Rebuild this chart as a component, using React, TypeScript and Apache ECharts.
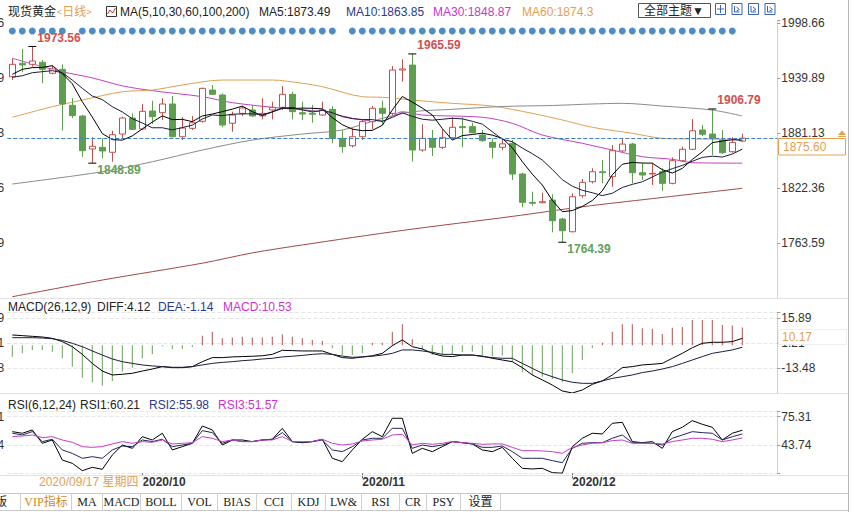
import { useEffect, useRef } from 'react';
import * as echarts from 'echarts';

const dates = [
  '2020/09/14','2020/09/15','2020/09/16','2020/09/17','2020/09/18','2020/09/21','2020/09/22','2020/09/23','2020/09/24','2020/09/25',
  '2020/09/28','2020/09/29','2020/09/30','2020/10/01','2020/10/02','2020/10/05','2020/10/06','2020/10/07','2020/10/08','2020/10/09',
  '2020/10/12','2020/10/13','2020/10/14','2020/10/15','2020/10/16','2020/10/19','2020/10/20','2020/10/21','2020/10/22','2020/10/23',
  '2020/10/26','2020/10/27','2020/10/28','2020/10/29','2020/10/30','2020/11/02','2020/11/03','2020/11/04','2020/11/05','2020/11/06',
  '2020/11/09','2020/11/10','2020/11/11','2020/11/12','2020/11/13','2020/11/16','2020/11/17','2020/11/18','2020/11/19','2020/11/20',
  '2020/11/23','2020/11/24','2020/11/25','2020/11/26','2020/11/27','2020/11/30','2020/12/01','2020/12/02','2020/12/03','2020/12/04',
  '2020/12/07','2020/12/08','2020/12/09','2020/12/10','2020/12/11','2020/12/14','2020/12/15','2020/12/16','2020/12/17','2020/12/18',
  '2020/12/21','2020/12/22','2020/12/23','2020/12/24'
];
const monthStarts = ['2020/10/01', '2020/11/02', '2020/12/01'];

const opens = [
  1941.2,1955.6,1954.5,1956.6,1944.9,1949.1,1910.7,1899.2,1864.0,1865.8,
  1860.5,1880.0,1897.1,1885.4,1904.6,1902.8,1912.1,1877.1,1886.1,1893.6,
  1927.0,1921.7,1891.5,1902.1,1905.7,1899.3,1905.7,1908.5,1922.4,1902.8,
  1902.1,1900.3,1906.4,1875.4,1867.5,1877.1,1893.2,1907.5,1902.1,1948.4,
  1953.7,1862.9,1875.4,1865.8,1876.1,1887.9,1887.9,1878.9,1871.1,1865.8,
  1870.1,1837.3,1807.0,1806.6,1809.5,1789.2,1775.6,1814.1,1829.1,1839.7,
  1834.4,1861.9,1869.3,1838.7,1837.3,1839.7,1827.3,1851.5,1863.7,1884.3,
  1880.0,1873.6,1861.1,1872.5
];
const closes = [
  1954.5,1953.8,1958.0,1949.1,1949.5,1912.1,1899.6,1862.2,1866.9,1861.9,
  1879.3,1897.1,1885.0,1904.3,1898.5,1912.1,1877.1,1886.4,1892.1,1928.8,
  1922.4,1889.6,1900.3,1907.8,1899.3,1902.1,1908.5,1922.4,1903.9,1901.4,
  1901.1,1905.7,1875.4,1866.5,1877.1,1893.2,1907.5,1902.1,1948.4,1949.5,
  1862.9,1875.4,1865.8,1876.1,1887.2,1886.8,1881.4,1872.9,1865.8,1869.5,
  1837.3,1807.0,1806.0,1807.7,1787.4,1776.7,1813.0,1828.4,1839.7,1838.7,
  1862.2,1869.3,1838.7,1836.2,1838.0,1827.3,1851.5,1863.7,1883.5,1879.7,
  1875.4,1860.0,1871.1,1875.6
];
const lows = [
  1937.7,1946.0,1951.9,1934.2,1943.8,1883.5,1896.8,1855.8,1848.89,1854.1,
  1850.4,1875.4,1884.3,1884.3,1890.7,1895.0,1876.5,1873.6,1884.3,1892.0,
  1921.7,1887.2,1882.5,1899.3,1898.5,1895.7,1895.7,1905.7,1895.7,1895.0,
  1892.1,1899.3,1870.1,1860.0,1865.8,1873.6,1885.0,1889.6,1900.0,1935.9,
  1850.4,1861.1,1856.5,1864.0,1875.4,1865.8,1880.7,1871.8,1854.1,1862.9,
  1830.9,1801.7,1803.4,1806.0,1775.0,1764.39,1775.0,1812.0,1827.3,1827.3,
  1823.7,1861.1,1827.3,1830.9,1825.5,1819.4,1826.3,1850.4,1862.9,1877.9,
  1857.6,1858.6,1860.0,1871.8
];
const highs = [
  1960.9,1971.0,1973.56,1959.1,1953.7,1954.5,1918.2,1900.5,1876.5,1875.4,
  1883.5,1898.5,1902.1,1912.1,1915.6,1918.2,1920.6,1897.9,1899.2,1929.5,
  1932.4,1923.5,1903.9,1909.9,1911.0,1918.2,1914.5,1931.3,1925.2,1914.5,
  1911.0,1914.5,1909.9,1884.3,1886.1,1895.0,1909.9,1915.6,1952.7,1959.8,
  1965.59,1890.4,1884.3,1885.0,1897.9,1897.9,1892.1,1884.3,1875.4,1875.4,
  1873.6,1838.7,1818.4,1817.3,1815.6,1790.6,1816.6,1831.9,1843.4,1852.2,
  1868.3,1875.4,1870.7,1848.7,1848.7,1843.4,1855.1,1866.5,1896.0,1889.6,
  1906.79,1884.3,1876.5,1880.4
];
const highMarks = [[2, 1973.56], [40, 1965.59], [70, 1906.79]];
const lowMarks = [[8, 1848.89], [55, 1764.39]];

const ma5 = [
  1943.8,1949.1,1950.9,1951.2,1953.0,1944.5,1933.7,1914.5,1898.1,1880.5,
  1874.0,1873.5,1878.0,1885.5,1892.8,1899.4,1895.4,1895.7,1893.2,1899.3,
  1901.4,1903.9,1906.6,1909.8,1903.9,1899.8,1903.6,1908.0,1907.2,1907.7,
  1907.5,1906.9,1897.5,1890.0,1885.2,1883.6,1883.9,1889.3,1905.7,1920.1,
  1914.1,1907.7,1900.4,1885.9,1873.5,1878.3,1879.5,1880.9,1878.8,1875.3,
  1865.4,1850.5,1837.1,1825.5,1809.1,1797.0,1798.2,1802.6,1809.0,1819.3,
  1836.4,1847.7,1849.7,1849.0,1848.9,1841.9,1838.3,1843.3,1852.8,1861.1,
  1870.8,1872.5,1873.9,1873.5
];
const ma10 = [
  1940.6,1942.3,1945.5,1946.6,1947.7,1945.5,1937.7,1928.8,1920.6,1916.8,
  1909.2,1903.6,1896.3,1891.8,1886.7,1886.7,1884.4,1886.9,1889.4,1896.1,
  1900.4,1899.6,1901.2,1901.5,1901.6,1900.6,1903.7,1907.3,1908.5,1905.8,
  1903.6,1905.3,1902.8,1898.6,1896.4,1895.5,1895.4,1893.4,1897.8,1902.7,
  1898.8,1895.8,1894.8,1895.8,1896.8,1896.2,1893.6,1890.6,1882.4,1874.4,
  1871.8,1865.0,1859.0,1852.2,1842.2,1831.2,1824.3,1819.9,1817.3,1814.2,
  1816.7,1822.9,1826.2,1829.0,1834.1,1839.2,1843.0,1846.5,1850.9,1855.0,
  1856.3,1855.4,1858.6,1863.85
];
const ma30Pts = [[0,1960.9],[3,1952.0],[5,1946.5],[8,1940.0],[11,1931.5],[14,1926.3],[19,1919.9],[22,1913.5],[27,1907.5],[31,1903.8],[35,1895.0],[37,1894.2],[39,1903.8],[41,1900.3],[47,1897.9],[50,1891.5],[53,1878.9],[57,1870.1],[60,1862.9],[63,1855.8],[66,1853.0],[68,1849.4],[73,1848.87]];
const ma60Pts = [[0,1897.9],[4,1909.2],[7,1916.3],[11,1925.2],[14,1927.0],[17,1932.4],[21,1937.7],[26,1937.7],[29,1934.2],[31,1930.6],[35,1919.9],[37,1919.2],[40,1916.3],[44,1912.8],[48,1909.9],[52,1902.1],[55,1895.0],[58,1887.2],[62,1880.8],[65,1875.4],[68,1874.7],[73,1874.3]];
const ma100Pts = [[0,1826.6],[9,1839.7],[14,1850.4],[19,1862.9],[24,1873.6],[29,1880.0],[33,1884.3],[37,1896.8],[40,1903.8],[44,1906.4],[49,1909.4],[54,1910.5],[58,1912.1],[61,1912.8],[65,1909.9],[70,1905.6],[73,1899.3]];
const ma200Pts = [[0,1706.2],[9,1724.0],[19,1742.0],[24,1753.0],[29,1761.5],[39,1777.0],[50,1792.0],[57,1802.3],[64,1811.0],[73,1822.0]];

const macdBars = [
  -6.7,-4.7,-2.7,-2.7,-3.7,-7.6,-12.5,-19.0,-21.7,-23.7,
  -20.9,-15.5,-13.1,-7.6,-5.3,-0.6,-2.2,-2.2,-1.0,5.7,
  8.0,4.1,4.6,5.1,4.6,4.6,5.1,6.5,5.1,4.1,
  3.2,2.6,-1.7,-5.7,-5.7,-4.7,1.6,1.6,8.0,12.4,
  3.6,-2.5,-5.7,-6.0,-5.7,-4.1,-3.7,-6.0,-6.6,-6.0,
  -9.6,-15.8,-17.4,-18.4,-19.8,-21.7,-16.4,-8.6,-1.5,1.5,
  8.0,12.4,12.4,10.0,9.8,6.7,10.4,10.8,14.9,14.9,
  14.9,11.9,11.6,10.53
];
const diff = [
  6.1,5.7,5.3,4.9,4.1,2.2,-0.8,-5.3,-10.6,-15.1,
  -17.4,-17.0,-16.4,-15.1,-13.9,-12.5,-13.1,-13.1,-12.5,-9.6,
  -7.2,-7.2,-6.8,-6.6,-6.4,-6.1,-5.3,-2.9,-3.1,-3.3,
  -3.3,-3.3,-5.3,-7.2,-7.6,-6.8,-6.1,-4.7,-0.2,3.2,
  -0.8,-2.1,-4.7,-6.3,-6.6,-5.7,-5.7,-6.3,-7.6,-8.6,
  -9.6,-13.1,-17.4,-20.3,-23.3,-26.8,-28.0,-26.2,-22.9,-20.9,
  -17.4,-13.1,-12.5,-11.5,-11.1,-10.6,-7.6,-4.7,-1.4,1.2,
  1.8,1.8,2.2,4.12
];
const dea = [
  4.5,4.5,4.5,4.3,3.9,2.9,1.2,-0.8,-3.3,-5.7,
  -8.0,-9.6,-10.6,-11.5,-12.1,-12.5,-12.9,-12.9,-12.5,-11.5,
  -10.6,-10.0,-9.6,-9.0,-8.6,-8.0,-7.6,-6.8,-6.4,-5.9,
  -5.3,-4.9,-5.3,-6.3,-7.0,-6.8,-6.4,-5.7,-4.7,-2.7,
  -2.7,-3.3,-4.1,-5.3,-5.3,-5.7,-5.7,-6.6,-7.2,-7.6,
  -7.6,-10.6,-13.5,-16.4,-18.4,-20.3,-21.7,-22.3,-22.3,-20.9,
  -19.4,-18.4,-17.4,-16.0,-15.1,-13.9,-12.5,-10.6,-8.6,-6.6,
  -4.7,-3.7,-2.7,-1.14
];

const rsi1 = [
  58.6,56.8,60.5,45.6,49.3,27.0,23.3,15.1,18.8,16.6,
  32.6,43.7,40.0,53.0,49.3,56.8,38.2,41.9,45.6,64.9,
  60.5,43.7,49.3,49.3,47.5,49.3,50.1,62.3,47.5,46.3,
  47.5,50.1,28.9,25.2,38.2,50.1,58.6,53.0,73.5,73.5,
  34.4,40.0,36.3,41.9,47.5,46.3,44.9,38.2,36.3,41.1,
  28.9,17.7,17.0,17.7,12.9,12.3,41.9,51.2,56.8,56.0,
  67.9,69.0,47.5,46.3,47.5,40.0,58.6,63.5,70.9,66.8,
  63.5,49.3,56.8,60.21
];
const rsi2 = [
  56.8,54.9,58.6,47.5,50.1,38.2,34.4,28.9,30.7,28.9,
  38.2,42.6,41.9,49.3,47.5,50.1,41.9,43.7,45.6,59.7,
  57.5,45.6,49.3,47.5,47.5,49.3,50.1,57.5,47.5,46.3,
  47.5,49.3,38.2,36.3,41.9,49.3,51.2,51.2,62.3,62.3,
  40.0,43.7,41.9,43.7,47.5,46.3,44.9,41.1,41.1,42.6,
  36.3,28.9,28.9,28.9,26.3,24.0,40.0,45.6,46.3,46.3,
  51.2,54.9,46.3,46.3,45.6,43.7,51.2,54.9,58.6,57.5,
  56.8,49.3,53.0,55.98
];
const rsi3 = [
  53.0,53.8,54.9,51.9,53.0,49.3,46.7,41.9,41.1,41.9,
  44.9,47.5,45.6,47.5,46.7,49.3,44.9,45.6,46.3,53.0,
  51.2,47.5,49.3,47.5,47.5,49.3,49.3,53.0,47.5,47.5,
  47.5,50.1,45.6,43.7,44.9,48.2,49.3,50.1,54.9,55.6,
  43.7,45.6,44.5,45.6,47.5,46.3,45.6,44.5,44.9,44.9,
  41.1,37.4,37.4,37.1,36.3,34.4,41.1,43.7,45.6,46.3,
  48.6,49.3,45.6,45.6,45.6,44.9,47.5,49.3,51.2,51.2,
  50.1,47.5,49.3,51.57
];

const newsDots = [
  1,1,1,1,1,1,0,1,1,1, 1,1,1,1,1,1,1,1,1,1,
  1,1,1,1,1,1,1,1,1,1, 1,1,1,0,1,1,1,1,1,1,
  1,1,1,1,1,1,1,1,1,1, 1,1,1,1,1,1,1,1,1,1,
  1,1,1,1,1,1,1,1,1,1, 1,1,1,0
];

const mainTicks = ['1998.66', '1939.89', '1881.13', '1822.36', '1763.59'];
const macdTicks = ['15.89', '1.21', '-13.48'];
const rsiTicks = ['75.31', '43.74'];
const tabs = ['VIP指标', 'MA', 'MACD', 'BOLL', 'VOL', 'BIAS', 'CCI', 'KDJ', 'LW&', 'RSI', 'CR', 'PSY', '设置'];

const FONT = "'Liberation Sans', Arial, 'Noto Sans CJK SC', sans-serif";
const SERIF = "'Liberation Serif', 'Noto Sans CJK SC', serif";
const UP = '#c0504d';
const DOWN = '#5e9e4f';
const NAVY = '#2a3a8c';
const MAGENTA = '#cc33cc';
const ORANGE = '#e3a052';

const pick = (list: string[]) => (v: number) => {
  const m = list.find((s) => Math.abs(parseFloat(s) - v) < 0.03);
  return m ?? '';
};

const txt = (text: string, x: number, y: number, fill: string, extra: any = {}) => ({
  type: 'text', x, y, silent: true, z: 100,
  style: {
    text, fill, fontSize: 12, fontFamily: FONT,
    align: 'left', verticalAlign: 'middle', textAlign: 'left', textVerticalAlign: 'middle',
    ...extra,
  },
});
const hline = (x1: number, x2: number, y: number, stroke: string) => ({
  type: 'line', silent: true, z: 90, shape: { x1, y1: y, x2, y2: y }, style: { stroke, lineWidth: 1 },
});
const vline = (x: number, y1: number, y2: number, stroke: string) => ({
  type: 'line', silent: true, z: 90, shape: { x1: x, y1, x2: x, y2 }, style: { stroke, lineWidth: 1 },
});

const GL = 7.3;
const GW = 770;

const xHidden = (gridIndex: number) => ({
  type: 'category', gridIndex, data: dates, boundaryGap: true, max: 76,
  axisLine: { show: false }, axisTick: { show: false }, axisLabel: { show: false }, splitLine: { show: false },
});
const isMonthStart = (_i: number, v: string) => monthStarts.includes(v);

const yPair = (gridIndex: number, min: number, max: number, interval: number, ticks: string[], split: boolean) => [
  {
    type: 'value', gridIndex, position: 'right', min, max, interval,
    axisLine: { show: true, lineStyle: { color: '#c8c8c8', type: 'dotted' } },
    axisTick: { show: true, length: 3, lineStyle: { color: '#999' } },
    axisLabel: { formatter: pick(ticks), color: '#333', fontSize: 12, margin: 4, fontFamily: FONT },
    splitLine: { show: split, lineStyle: { color: '#e6e6e6', type: 'dashed' } },
  },
  {
    type: 'value', gridIndex, position: 'left', min, max, interval,
    axisLine: { show: false }, axisTick: { show: false },
    axisLabel: { formatter: pick(ticks), color: '#333', fontSize: 12, margin: 3, fontFamily: FONT },
    splitLine: { show: false },
  },
];

const graphics: any[] = [
  txt('现货黄金', 8, 12, '#222'),
  {
    type: 'text', x: 57, y: 12, silent: true, z: 100,
    style: {
      text: '{s|<}日线{s|>}', fill: ORANGE, fontSize: 12, fontFamily: FONT,
      align: 'left', verticalAlign: 'middle', textAlign: 'left', textVerticalAlign: 'middle',
      rich: { s: { fontSize: 9, fill: ORANGE, fontFamily: FONT } },
    },
  },
  { type: 'rect', silent: true, z: 100, shape: { x: 106.5, y: 6.5, width: 10, height: 10 }, style: { fill: '#fff', stroke: '#333', lineWidth: 1 } },
  { type: 'polyline', silent: true, z: 101, shape: { points: [[107.5, 14], [110, 10], [112.5, 13], [115.5, 8]] }, style: { stroke: '#c03030', fill: 'none', lineWidth: 1 } },
  txt('MA(5,10,30,60,100,200)', 120, 12, '#222'),
  txt('MA5:1873.49', 259, 12, '#222'),
  txt('MA10:1863.85', 346, 12, NAVY),
  txt('MA30:1848.87', 433, 12, MAGENTA),
  txt('MA60:1874.3', 522, 12, ORANGE),
  { type: 'rect', silent: true, z: 100, shape: { x: 638.5, y: 3.5, width: 72, height: 14 }, style: { fill: '#fff', stroke: '#555', lineWidth: 1 } },
  txt('全部主题▼', 644, 11, '#222'),
  ...[715, 731.5, 748, 764.5].flatMap((x, k) => [
    { type: 'rect', silent: true, z: 100, shape: { x: x + 0.5, y: 3.5, width: 10, height: 11 }, style: { fill: '#fff', stroke: '#3b64b0', lineWidth: 1 } },
    k === 0
      ? { type: 'polyline', silent: true, z: 101, shape: { points: [[x + 5.5, 5], [x + 5.5, 13]] }, style: { stroke: '#3b64b0', fill: 'none' } }
      : { type: 'polyline', silent: true, z: 101, shape: { points: [[x + 3, 6], [x + 3, 12], [x + 8, 12]] }, style: { stroke: '#3b64b0', fill: 'none' } },
    k === 0
      ? { type: 'polyline', silent: true, z: 101, shape: { points: [[x + 2, 9], [x + 9, 9]] }, style: { stroke: '#3b64b0', fill: 'none' } }
      : { type: 'polyline', silent: true, z: 101, shape: { points: [[x + 5, 7], [x + 8, 9.5], [x + 5, 11]] }, style: { stroke: '#3b64b0', fill: 'none' } },
  ]),
  hline(0, 848, 298.5, '#e2e2e2'),
  hline(0, 848, 393.5, '#e2e2e2'),
  hline(0, 848, 475.5, '#e2e2e2'),
  vline(848.5, 0, 512, '#b8b8b8'),
  txt('MACD(26,12,9)', 8, 307, '#222'),
  txt('DIFF:4.12', 97, 307, '#222'),
  txt('DEA:-1.14', 158, 307, NAVY),
  txt('MACD:10.53', 223, 307, MAGENTA),
  txt('RSI(6,12,24)', 8, 405, '#222'),
  txt('RSI1:60.21', 80, 405, '#222'),
  txt('RSI2:55.98', 149, 405, NAVY),
  txt('RSI3:51.57', 218, 405, MAGENTA),
  { type: 'rect', silent: true, z: 100, shape: { x: 778.5, y: 138.5, width: 67, height: 16.5 }, style: { fill: '#fff', stroke: ORANGE, lineWidth: 1 } },
  txt('1875.60', 783, 147, ORANGE),
  { type: 'polygon', silent: true, z: 101, shape: { points: [[838, 135], [842, 130.5], [846, 135]] }, style: { fill: ORANGE } },
  hline(838, 846, 136.5, ORANGE),
  { type: 'rect', silent: true, z: 100, shape: { x: 778.5, y: 329.5, width: 68, height: 15 }, style: { fill: '#fff', stroke: '#eeeeee', lineWidth: 1 } },
  txt('10.17', 782, 337, ORANGE),
  txt('2020/09/17 星期四', 39, 482, ORANGE, { backgroundColor: '#fff', padding: [0, 5, 0, 0] }),
  hline(0, 848, 493.5, '#c8c8c8'),
  hline(0, 848, 510.5, '#c8c8c8'),
  txt('版', 7, 502, '#222', { align: 'right', textAlign: 'right', fontFamily: SERIF }),
  ...[20.5, 71.5, 102.5, 140.5, 181.5, 217.5, 256.5, 291.5, 325.5, 361.5, 399.5, 426.5, 460.5, 500.5].map((x) => vline(x, 494, 510, '#d0d0d0')),
  ...tabs.map((t, k) => {
    const centers = [46, 87, 121.5, 161, 199.5, 237, 274, 308.5, 343.5, 380.5, 413, 443.5, 480.5];
    return txt(t, centers[k], 502, k === 0 ? '#d08a20' : '#222', { align: 'center', textAlign: 'center', fontFamily: SERIF });
  }),
];

const gridBase = { left: GL, width: GW, containLabel: false, outerBoundsMode: 'none' };

const option: any = {
  animation: false,
  backgroundColor: '#fff',
  grid: [
    { ...gridBase, top: 20, height: 278 },
    { ...gridBase, top: 312.05, height: 81.25 },
    { ...gridBase, top: 411, height: 62.3 },
    { ...gridBase, top: 26, height: 10 },
  ],
  xAxis: [
    xHidden(0),
    xHidden(1),
    {
      type: 'category', gridIndex: 2, data: dates, boundaryGap: true, max: 76,
      axisLine: { show: false },
      axisTick: { show: true, interval: isMonthStart, alignWithLabel: true, length: 5, lineStyle: { color: '#666' } },
      axisLabel: {
        show: true, interval: isMonthStart, formatter: (v: string) => (v ? v.slice(0, 7) : ''),
        align: 'left', color: '#333', fontWeight: 'bold', fontSize: 12, margin: 3, fontFamily: FONT,
      },
      splitLine: { show: false },
    },
    xHidden(3),
  ],
  yAxis: [
    ...yPair(0, 1704.82, 2001.83, 58.77, mainTicks, false),
    ...yPair(1, -28.165, 19.56, 14.685, macdTicks, true),
    ...yPair(2, 12.17, 81.62, 31.57, rsiTicks, true),
    { type: 'value', gridIndex: 3, min: -1, max: 1, show: false },
  ],
  graphic: { elements: graphics },
  series: [
    {
      type: 'candlestick', xAxisIndex: 0, yAxisIndex: 0, barWidth: 7,
      data: dates.map((_, i) => [opens[i], closes[i], lows[i], highs[i]]),
      itemStyle: { color: '#fff', color0: DOWN, borderColor: UP, borderColor0: DOWN, borderWidth: 1 },
      markLine: {
        silent: true, symbol: ['none', 'none'], label: { show: false },
        lineStyle: { color: '#3f7fbf', type: 'dashed', width: 1 },
        data: [{ yAxis: closes[closes.length - 1] }],
      },
      markPoint: {
        silent: true, symbol: 'rect', symbolSize: [8, 1], itemStyle: { color: '#000' },
        label: { fontSize: 12, fontWeight: 'bold', fontFamily: FONT },
        data: [
          ...highMarks.map(([i, v]) => ({
            coord: [i, v], value: v,
            label: { show: true, position: [9, -14], color: '#d05050', formatter: v.toFixed(2), fontSize: 12, fontWeight: 'bold', fontFamily: FONT },
          })),
          ...lowMarks.map(([i, v]) => ({
            coord: [i, v], value: v,
            label: { show: true, position: [9, 1], color: '#63a05a', formatter: v.toFixed(2), fontSize: 12, fontWeight: 'bold', fontFamily: FONT },
          })),
        ],
      },
      z: 3,
    },
    { type: 'line', xAxisIndex: 0, yAxisIndex: 0, data: ma5, showSymbol: false, lineStyle: { color: '#000', width: 1 }, z: 4 },
    { type: 'line', xAxisIndex: 0, yAxisIndex: 0, data: ma10, showSymbol: false, lineStyle: { color: '#1c1c3c', width: 1 }, z: 4 },
    { type: 'line', xAxisIndex: 0, yAxisIndex: 0, data: ma30Pts, showSymbol: false, smooth: 0.3, lineStyle: { color: '#c43ec4', width: 1 }, z: 2 },
    { type: 'line', xAxisIndex: 0, yAxisIndex: 0, data: ma60Pts, showSymbol: false, smooth: 0.3, lineStyle: { color: '#e0a050', width: 1 }, z: 2 },
    { type: 'line', xAxisIndex: 0, yAxisIndex: 0, data: ma100Pts, showSymbol: false, smooth: 0.3, lineStyle: { color: '#8a8a8a', width: 1 }, z: 2 },
    { type: 'line', xAxisIndex: 0, yAxisIndex: 0, data: ma200Pts, showSymbol: false, smooth: 0.3, lineStyle: { color: '#a04848', width: 1 }, z: 2 },
    {
      type: 'bar', xAxisIndex: 1, yAxisIndex: 2, barWidth: 1,
      data: macdBars.map((v) => ({ value: v, itemStyle: { color: v >= 0 ? '#b5524e' : '#6aa05c' } })),
    },
    { type: 'line', xAxisIndex: 1, yAxisIndex: 2, data: diff, showSymbol: false, lineStyle: { color: '#000', width: 1 } },
    { type: 'line', xAxisIndex: 1, yAxisIndex: 2, data: dea, showSymbol: false, lineStyle: { color: '#1c1c3c', width: 1 } },
    { type: 'line', xAxisIndex: 2, yAxisIndex: 4, data: rsi1, showSymbol: false, lineStyle: { color: '#000', width: 1 } },
    { type: 'line', xAxisIndex: 2, yAxisIndex: 4, data: rsi2, showSymbol: false, lineStyle: { color: '#22265e', width: 1 } },
    { type: 'line', xAxisIndex: 2, yAxisIndex: 4, data: rsi3, showSymbol: false, lineStyle: { color: '#c43ec4', width: 1 } },
    {
      type: 'scatter', xAxisIndex: 3, yAxisIndex: 6, symbol: 'circle', symbolSize: 7,
      itemStyle: { color: '#2272b8' },
      data: newsDots.map((f) => (f ? 0 : '-')),
    },
  ],
};

export default function App() {
  const ref = useRef<HTMLDivElement>(null);
  useEffect(() => {
    const chart = echarts.init(ref.current!, null, { renderer: 'svg' });
    chart.setOption(option);
    return () => chart.dispose();
  }, []);
  return (
    <div
      ref={ref}
      style={{ position: 'fixed', left: 0, top: 0, width: 851, height: 512, background: '#fff' }}
    />
  );
}
